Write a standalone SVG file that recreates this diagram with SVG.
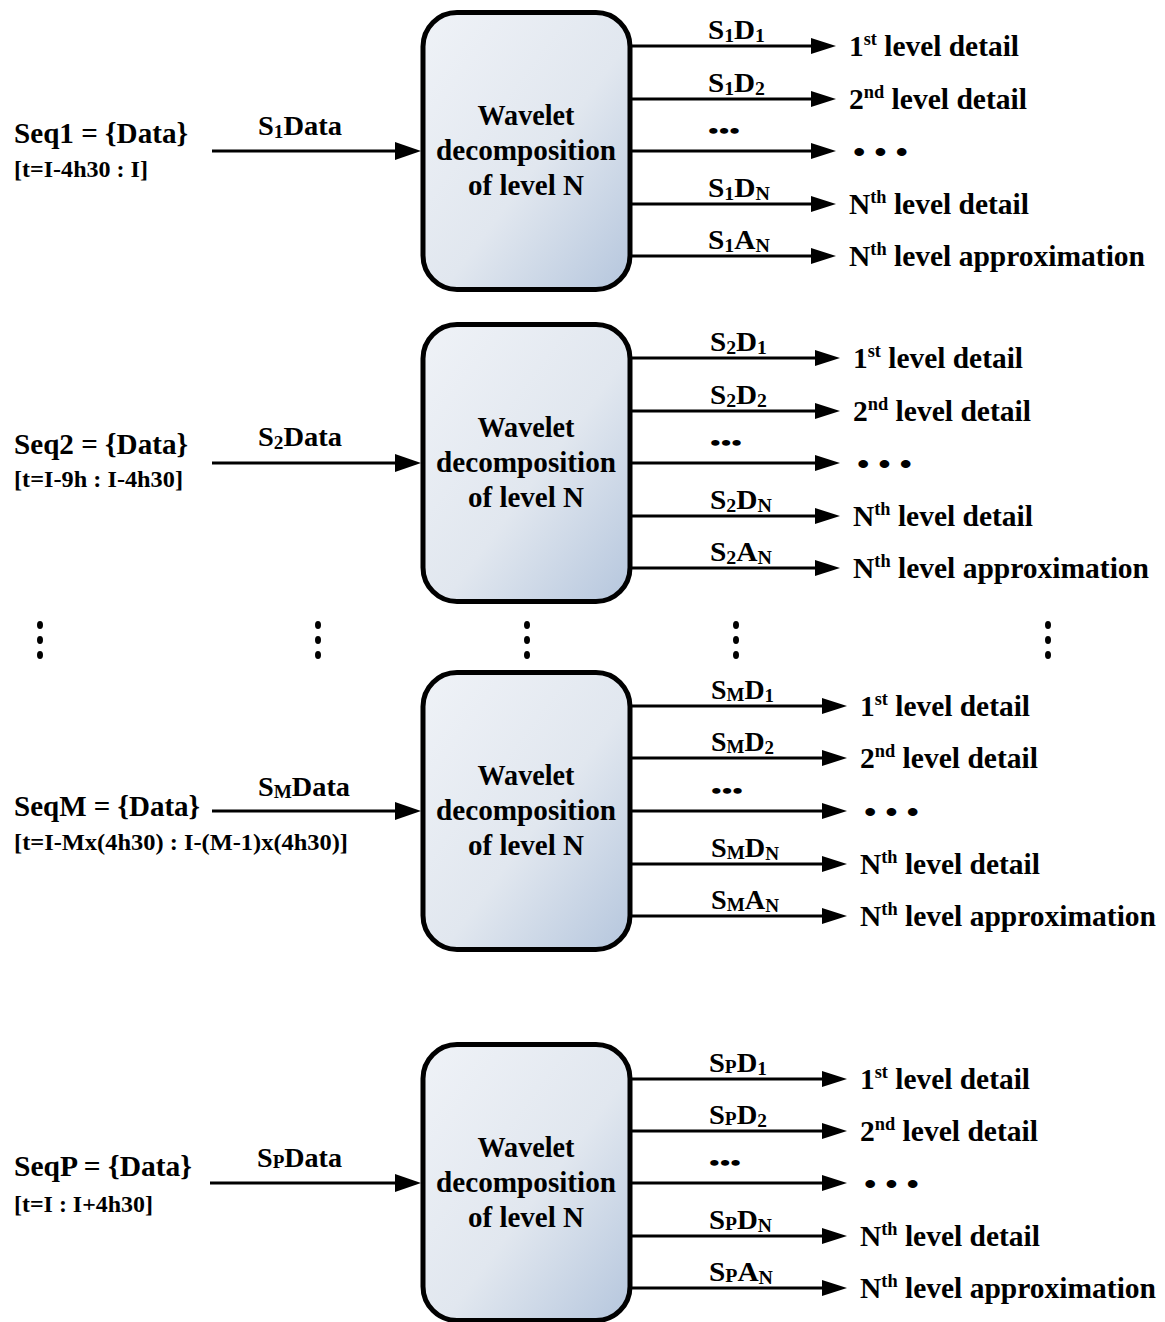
<svg xmlns="http://www.w3.org/2000/svg" width="1165" height="1322" viewBox="0 0 1165 1322">
<style>
.t{font-family:"Liberation Serif","Times New Roman",serif;font-weight:bold;fill:#000}
.big{font-size:29px}
.br{font-size:23px}
.inl{font-size:28px}
.out{font-size:28px}
.mid{text-anchor:middle}
.sub{font-size:19px}
.sup{font-size:18px}
.box{fill:url(#g);stroke:#000;stroke-width:5}
.ln{stroke:#000;stroke-width:3;fill:none}
.in{marker-end:url(#ahIn)}
.o{marker-end:url(#ahOut)}
.vd{fill:#000}
</style>
<defs>
<linearGradient id="g" x1="0" y1="0" x2="1" y2="1">
<stop offset="0" stop-color="#eff2f7"/>
<stop offset="0.55" stop-color="#e1e7ef"/>
<stop offset="1" stop-color="#b5c6dd"/>
</linearGradient>
<marker id="ahIn" viewBox="0 0 26 18" markerWidth="26" markerHeight="18" refX="16" refY="9" markerUnits="userSpaceOnUse" orient="auto">
<path d="M0,0 L26,9 L0,18 Z" fill="#000"/>
</marker>
<marker id="ahOut" viewBox="0 0 25 16" markerWidth="25" markerHeight="16" refX="15" refY="8" markerUnits="userSpaceOnUse" orient="auto">
<path d="M0,0 L25,8 L0,16 Z" fill="#000"/>
</marker>
</defs>

<g id="connectors">
<line class="ln in" x1="212" y1="151" x2="411" y2="151"/>
<line class="ln o" x1="630" y1="46" x2="826" y2="46"/>
<line class="ln o" x1="630" y1="99" x2="826" y2="99"/>
<line class="ln o" x1="630" y1="151" x2="826" y2="151"/>
<line class="ln o" x1="630" y1="204" x2="826" y2="204"/>
<line class="ln o" x1="630" y1="256" x2="826" y2="256"/>
<line class="ln in" x1="212" y1="463" x2="411" y2="463"/>
<line class="ln o" x1="630" y1="358" x2="830" y2="358"/>
<line class="ln o" x1="630" y1="411" x2="830" y2="411"/>
<line class="ln o" x1="630" y1="463" x2="830" y2="463"/>
<line class="ln o" x1="630" y1="516" x2="830" y2="516"/>
<line class="ln o" x1="630" y1="568" x2="830" y2="568"/>
<line class="ln in" x1="212" y1="811" x2="411" y2="811"/>
<line class="ln o" x1="630" y1="706" x2="837" y2="706"/>
<line class="ln o" x1="630" y1="758" x2="837" y2="758"/>
<line class="ln o" x1="630" y1="811" x2="837" y2="811"/>
<line class="ln o" x1="630" y1="864" x2="837" y2="864"/>
<line class="ln o" x1="630" y1="916" x2="837" y2="916"/>
<line class="ln in" x1="210" y1="1183" x2="411" y2="1183"/>
<line class="ln o" x1="630" y1="1079" x2="837" y2="1079"/>
<line class="ln o" x1="630" y1="1131" x2="837" y2="1131"/>
<line class="ln o" x1="630" y1="1183" x2="837" y2="1183"/>
<line class="ln o" x1="630" y1="1236" x2="837" y2="1236"/>
<line class="ln o" x1="630" y1="1288" x2="837" y2="1288"/>
</g>

<!-- ===== Block 1 ===== -->
<g id="seq1">
<text class="t big" x="14" y="143" textLength="174" lengthAdjust="spacingAndGlyphs">Seq1 = {Data}</text>
<text class="t br" x="14" y="177" textLength="134" lengthAdjust="spacingAndGlyphs">[t=I-4h30 : I]</text>
</g>
<g id="in1"><text class="t inl" x="258" y="135" textLength="84" lengthAdjust="spacingAndGlyphs">S<tspan class="sub" dy="3">1</tspan><tspan dy="-3">Data</tspan></text></g>
<g id="box1">
<rect class="box" x="423" y="12.5" width="207" height="277" rx="34"/>
<text class="t big mid" x="526" y="125" textLength="97" lengthAdjust="spacingAndGlyphs">Wavelet</text>
<text class="t big mid" x="526" y="160" textLength="180" lengthAdjust="spacingAndGlyphs">decomposition</text>
<text class="t big mid" x="526" y="195" textLength="116" lengthAdjust="spacingAndGlyphs">of level N</text>
</g>
<g id="outlabels1">
<text class="t out" x="708" y="39" textLength="57" lengthAdjust="spacingAndGlyphs">S<tspan class="sub" dy="3">1</tspan><tspan dy="-3">D</tspan><tspan class="sub" dy="3">1</tspan></text>
<text class="t out" x="708" y="92" textLength="57" lengthAdjust="spacingAndGlyphs">S<tspan class="sub" dy="3">1</tspan><tspan dy="-3">D</tspan><tspan class="sub" dy="3">2</tspan></text>
<text class="t" style="font-size:21px" x="708" y="138" textLength="32" lengthAdjust="spacingAndGlyphs">•••</text>
<text class="t out" x="708" y="197" textLength="62" lengthAdjust="spacingAndGlyphs">S<tspan class="sub" dy="3">1</tspan><tspan dy="-3">D</tspan><tspan class="sub" dy="3">N</tspan></text>
<text class="t out" x="708" y="249" textLength="62" lengthAdjust="spacingAndGlyphs">S<tspan class="sub" dy="3">1</tspan><tspan dy="-3">A</tspan><tspan class="sub" dy="3">N</tspan></text>
</g>
<g id="results1">
<text class="t big" x="849" y="56" textLength="170" lengthAdjust="spacingAndGlyphs">1<tspan class="sup" dy="-11">st</tspan><tspan dy="11"> level detail</tspan></text>
<text class="t big" x="849" y="109" textLength="178" lengthAdjust="spacingAndGlyphs">2<tspan class="sup" dy="-11">nd</tspan><tspan dy="11"> level detail</tspan></text>
<text class="t big" x="853" y="162" textLength="55" lengthAdjust="spacingAndGlyphs">• • •</text>
<text class="t big" x="849" y="214" textLength="180" lengthAdjust="spacingAndGlyphs">N<tspan class="sup" dy="-11">th</tspan><tspan dy="11"> level detail</tspan></text>
<text class="t big" x="849" y="266" textLength="296" lengthAdjust="spacingAndGlyphs">N<tspan class="sup" dy="-11">th</tspan><tspan dy="11"> level approximation</tspan></text>
</g>

<!-- ===== Block 2 ===== -->
<g id="seq2">
<text class="t big" x="14" y="454" textLength="174" lengthAdjust="spacingAndGlyphs">Seq2 = {Data}</text>
<text class="t br" x="14" y="487" textLength="169" lengthAdjust="spacingAndGlyphs">[t=I-9h : I-4h30]</text>
</g>
<g id="in2"><text class="t inl" x="258" y="446" textLength="84" lengthAdjust="spacingAndGlyphs">S<tspan class="sub" dy="3">2</tspan><tspan dy="-3">Data</tspan></text></g>
<g id="box2">
<rect class="box" x="423" y="324.5" width="207" height="277" rx="34"/>
<text class="t big mid" x="526" y="437" textLength="97" lengthAdjust="spacingAndGlyphs">Wavelet</text>
<text class="t big mid" x="526" y="472" textLength="180" lengthAdjust="spacingAndGlyphs">decomposition</text>
<text class="t big mid" x="526" y="507" textLength="116" lengthAdjust="spacingAndGlyphs">of level N</text>
</g>
<g id="outlabels2">
<text class="t out" x="710" y="351" textLength="57" lengthAdjust="spacingAndGlyphs">S<tspan class="sub" dy="3">2</tspan><tspan dy="-3">D</tspan><tspan class="sub" dy="3">1</tspan></text>
<text class="t out" x="710" y="404" textLength="57" lengthAdjust="spacingAndGlyphs">S<tspan class="sub" dy="3">2</tspan><tspan dy="-3">D</tspan><tspan class="sub" dy="3">2</tspan></text>
<text class="t" style="font-size:21px" x="710" y="450" textLength="32" lengthAdjust="spacingAndGlyphs">•••</text>
<text class="t out" x="710" y="509" textLength="62" lengthAdjust="spacingAndGlyphs">S<tspan class="sub" dy="3">2</tspan><tspan dy="-3">D</tspan><tspan class="sub" dy="3">N</tspan></text>
<text class="t out" x="710" y="561" textLength="62" lengthAdjust="spacingAndGlyphs">S<tspan class="sub" dy="3">2</tspan><tspan dy="-3">A</tspan><tspan class="sub" dy="3">N</tspan></text>
</g>
<g id="results2">
<text class="t big" x="853" y="368" textLength="170" lengthAdjust="spacingAndGlyphs">1<tspan class="sup" dy="-11">st</tspan><tspan dy="11"> level detail</tspan></text>
<text class="t big" x="853" y="421" textLength="178" lengthAdjust="spacingAndGlyphs">2<tspan class="sup" dy="-11">nd</tspan><tspan dy="11"> level detail</tspan></text>
<text class="t big" x="857" y="474" textLength="55" lengthAdjust="spacingAndGlyphs">• • •</text>
<text class="t big" x="853" y="526" textLength="180" lengthAdjust="spacingAndGlyphs">N<tspan class="sup" dy="-11">th</tspan><tspan dy="11"> level detail</tspan></text>
<text class="t big" x="853" y="578" textLength="296" lengthAdjust="spacingAndGlyphs">N<tspan class="sup" dy="-11">th</tspan><tspan dy="11"> level approximation</tspan></text>
</g>

<!-- ===== vertical ellipsis row ===== -->
<g id="vdots">
<ellipse class="vd" cx="40" cy="625" rx="3" ry="4"/><ellipse class="vd" cx="40" cy="640" rx="3" ry="4"/><ellipse class="vd" cx="40" cy="655" rx="3" ry="4"/>
<ellipse class="vd" cx="318" cy="625" rx="3" ry="4"/><ellipse class="vd" cx="318" cy="640" rx="3" ry="4"/><ellipse class="vd" cx="318" cy="655" rx="3" ry="4"/>
<ellipse class="vd" cx="527" cy="625" rx="3" ry="4"/><ellipse class="vd" cx="527" cy="640" rx="3" ry="4"/><ellipse class="vd" cx="527" cy="655" rx="3" ry="4"/>
<ellipse class="vd" cx="736" cy="625" rx="3" ry="4"/><ellipse class="vd" cx="736" cy="640" rx="3" ry="4"/><ellipse class="vd" cx="736" cy="655" rx="3" ry="4"/>
<ellipse class="vd" cx="1048" cy="625" rx="3" ry="4"/><ellipse class="vd" cx="1048" cy="640" rx="3" ry="4"/><ellipse class="vd" cx="1048" cy="655" rx="3" ry="4"/>
</g>

<!-- ===== Block M ===== -->
<g id="seqM">
<text class="t big" x="14" y="816" textLength="186" lengthAdjust="spacingAndGlyphs">SeqM = {Data}</text>
<text class="t br" x="14" y="850" textLength="334" lengthAdjust="spacingAndGlyphs">[t=I-Mx(4h30) : I-(M-1)x(4h30)]</text>
</g>
<g id="inM"><text class="t inl" x="258" y="796" textLength="92" lengthAdjust="spacingAndGlyphs">S<tspan class="sub" dy="2">M</tspan><tspan dy="-2">Data</tspan></text></g>
<g id="boxM">
<rect class="box" x="423" y="672.5" width="207" height="277" rx="34"/>
<text class="t big mid" x="526" y="785" textLength="97" lengthAdjust="spacingAndGlyphs">Wavelet</text>
<text class="t big mid" x="526" y="820" textLength="180" lengthAdjust="spacingAndGlyphs">decomposition</text>
<text class="t big mid" x="526" y="855" textLength="116" lengthAdjust="spacingAndGlyphs">of level N</text>
</g>
<g id="outlabelsM">
<text class="t out" x="711" y="699" textLength="63" lengthAdjust="spacingAndGlyphs">S<tspan class="sub" dy="2">M</tspan><tspan dy="-2">D</tspan><tspan class="sub" dy="3">1</tspan></text>
<text class="t out" x="711" y="751" textLength="63" lengthAdjust="spacingAndGlyphs">S<tspan class="sub" dy="2">M</tspan><tspan dy="-2">D</tspan><tspan class="sub" dy="3">2</tspan></text>
<text class="t" style="font-size:21px" x="711" y="798" textLength="32" lengthAdjust="spacingAndGlyphs">•••</text>
<text class="t out" x="711" y="857" textLength="68" lengthAdjust="spacingAndGlyphs">S<tspan class="sub" dy="2">M</tspan><tspan dy="-2">D</tspan><tspan class="sub" dy="3">N</tspan></text>
<text class="t out" x="711" y="909" textLength="68" lengthAdjust="spacingAndGlyphs">S<tspan class="sub" dy="2">M</tspan><tspan dy="-2">A</tspan><tspan class="sub" dy="3">N</tspan></text>
</g>
<g id="resultsM">
<text class="t big" x="860" y="716" textLength="170" lengthAdjust="spacingAndGlyphs">1<tspan class="sup" dy="-11">st</tspan><tspan dy="11"> level detail</tspan></text>
<text class="t big" x="860" y="768" textLength="178" lengthAdjust="spacingAndGlyphs">2<tspan class="sup" dy="-11">nd</tspan><tspan dy="11"> level detail</tspan></text>
<text class="t big" x="864" y="822" textLength="55" lengthAdjust="spacingAndGlyphs">• • •</text>
<text class="t big" x="860" y="874" textLength="180" lengthAdjust="spacingAndGlyphs">N<tspan class="sup" dy="-11">th</tspan><tspan dy="11"> level detail</tspan></text>
<text class="t big" x="860" y="926" textLength="296" lengthAdjust="spacingAndGlyphs">N<tspan class="sup" dy="-11">th</tspan><tspan dy="11"> level approximation</tspan></text>
</g>

<!-- ===== Block P ===== -->
<g id="seqP">
<text class="t big" x="14" y="1176" textLength="178" lengthAdjust="spacingAndGlyphs">SeqP = {Data}</text>
<text class="t br" x="14" y="1212" textLength="139" lengthAdjust="spacingAndGlyphs">[t=I : I+4h30]</text>
</g>
<g id="inP"><text class="t inl" x="257" y="1167" textLength="85" lengthAdjust="spacingAndGlyphs">S<tspan class="sub" dy="1">P</tspan><tspan dy="-1">Data</tspan></text></g>
<g id="boxP">
<rect class="box" x="423" y="1044.5" width="207" height="276" rx="34"/>
<text class="t big mid" x="526" y="1157" textLength="97" lengthAdjust="spacingAndGlyphs">Wavelet</text>
<text class="t big mid" x="526" y="1192" textLength="180" lengthAdjust="spacingAndGlyphs">decomposition</text>
<text class="t big mid" x="526" y="1227" textLength="116" lengthAdjust="spacingAndGlyphs">of level N</text>
</g>
<g id="outlabelsP">
<text class="t out" x="709" y="1072" textLength="58" lengthAdjust="spacingAndGlyphs">S<tspan class="sub" dy="1">P</tspan><tspan dy="-1">D</tspan><tspan class="sub" dy="3">1</tspan></text>
<text class="t out" x="709" y="1124" textLength="58" lengthAdjust="spacingAndGlyphs">S<tspan class="sub" dy="1">P</tspan><tspan dy="-1">D</tspan><tspan class="sub" dy="3">2</tspan></text>
<text class="t" style="font-size:21px" x="709" y="1170" textLength="32" lengthAdjust="spacingAndGlyphs">•••</text>
<text class="t out" x="709" y="1229" textLength="63" lengthAdjust="spacingAndGlyphs">S<tspan class="sub" dy="1">P</tspan><tspan dy="-1">D</tspan><tspan class="sub" dy="3">N</tspan></text>
<text class="t out" x="709" y="1281" textLength="64" lengthAdjust="spacingAndGlyphs">S<tspan class="sub" dy="1">P</tspan><tspan dy="-1">A</tspan><tspan class="sub" dy="3">N</tspan></text>
</g>
<g id="resultsP">
<text class="t big" x="860" y="1089" textLength="170" lengthAdjust="spacingAndGlyphs">1<tspan class="sup" dy="-11">st</tspan><tspan dy="11"> level detail</tspan></text>
<text class="t big" x="860" y="1141" textLength="178" lengthAdjust="spacingAndGlyphs">2<tspan class="sup" dy="-11">nd</tspan><tspan dy="11"> level detail</tspan></text>
<text class="t big" x="864" y="1194" textLength="55" lengthAdjust="spacingAndGlyphs">• • •</text>
<text class="t big" x="860" y="1246" textLength="180" lengthAdjust="spacingAndGlyphs">N<tspan class="sup" dy="-11">th</tspan><tspan dy="11"> level detail</tspan></text>
<text class="t big" x="860" y="1298" textLength="296" lengthAdjust="spacingAndGlyphs">N<tspan class="sup" dy="-11">th</tspan><tspan dy="11"> level approximation</tspan></text>
</g>
</svg>
